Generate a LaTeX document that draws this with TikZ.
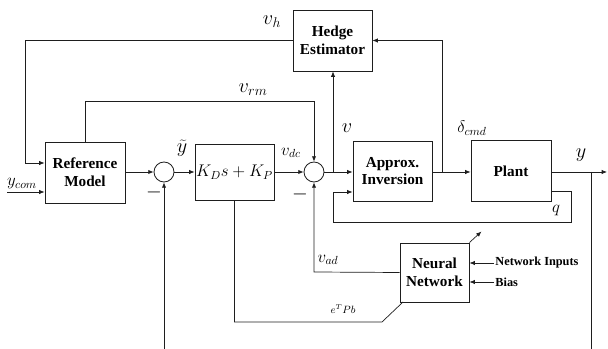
\documentclass[tikz,border=0pt]{standalone}
\usepackage{fontspec}
\setmainfont{Liberation Serif}
\usepackage{tikz}
\usetikzlibrary{arrows.meta,calc}
\definecolor{cwireline}{HTML}{1E1E1E}
\tikzset{cbox/.style={rectangle, draw=cwireline, line width=0.8pt, inner sep=0pt, align=center, font=\fontsize{13}{15}\selectfont\bfseries}}
\tikzset{csum/.style={circle, draw=cwireline, line width=0.7pt, minimum size=0.6cm, inner sep=0pt}}
\tikzset{cedge/.style={-{Latex[length=1.6mm,width=1.3mm]}, draw=cwireline, line width=0.6pt}}
\tikzset{cwire/.style={draw=cwireline, line width=0.6pt}}
\tikzset{clabel/.style={inner sep=1pt, font=\Large}}
\tikzset{ctext/.style={inner sep=1pt, font=\fontsize{10.5}{12}\selectfont\bfseries}}

\begin{document}
\begin{tikzpicture}[x=0.03cm, y=-0.03cm]
  \useasboundingbox (0,0) rectangle (608,349);

  \node[cbox, minimum width=2.4cm, minimum height=1.83cm] (refm) at (85,172.5) {Reference\\Model};
  \node[csum] (sum1) at (164,172) {};
  \node[cbox, minimum width=2.37cm, minimum height=1.68cm, font=\Large] (pd) at (234.5,172) {$K_D s + K_P$};
  \node[csum] (sum2) at (314,172) {};
  \node[cbox, minimum width=2.37cm, minimum height=1.83cm] (hedge) at (332.5,40.5) {Hedge\\Estimator};
  \node[cbox, minimum width=2.37cm, minimum height=1.8cm] (approx) at (392.5,171) {Approx.\\Inversion};
  \node[cbox, minimum width=2.4cm, minimum height=1.83cm] (plant) at (511,171) {Plant};
  \node[cbox, minimum width=2.07cm, minimum height=1.77cm] (nn) at (434.5,272.5) {Neural\\Network};

  \node[ctext, anchor=west] (nin) at (494,263) {Network Inputs};
  \node[ctext, anchor=west] (bias) at (494,282) {Bias};

  \coordinate (vhturn) at (25,163);
  \coordinate (ycomin) at (7,192);
  \coordinate (ymeas) at (164,349);
  \coordinate (vbr) at (333,172);
  \coordinate (dbr) at (442,172);
  \coordinate (ybr) at (591,172);
  \coordinate (yout) at (607,172);
  \coordinate (ybot) at (591,349);
  \coordinate (qa) at (571,191);
  \coordinate (qb) at (333,222);
  \coordinate (qin) at (333,192);
  \coordinate (vadc) at (314,272);
  \coordinate (ekink) at (382,322);
  \coordinate (ein) at (403,302);

  % signals
  \draw[cedge] (hedge.west) -| (vhturn) -- (refm.west |- vhturn);
  \draw[cedge] (ycomin) -- (refm.west |- ycomin);
  \draw[cedge] (refm.east |- sum1) -- (sum1.west);
  \draw[cedge] (refm.north) -- ++(0,-40) -| (sum2.north);
  \draw[cedge] (sum1) -- (pd);
  \draw[cedge] (ymeas) -- (sum1.south);
  \draw[cedge] (pd) -- (sum2);
  \draw[cedge] (sum2) -- (approx.west |- sum2);
  \draw[cedge] (vbr) -- (hedge.south -| vbr);
  \draw[cedge] (approx.east |- dbr) -- (plant.west |- dbr);
  \draw[cedge] (dbr) |- (hedge.east);
  \draw[cedge] (plant.east |- ybr) -- (yout);
  \draw[cwire] (ybr) -- (ybot);
  \draw[cedge] (plant.east |- qa) -- (qa) |- (qb) -- (qin) -- (approx.west |- qin);
  \draw[cedge] (nn.west) -- (vadc) -- (sum2.south);
  \draw[cwire] (pd.south) |- (ekink) -- (ein);
  \draw[cedge] (nn.north east) -- ++(12,-11);
  \draw[cedge] (nin.west) -- (nn.east |- nin);
  \draw[cedge] (bias.west) -- (nn.east |- bias);

  % labels
  \node[clabel, font=\LARGE] (lvh) at (272,22) {$v_h$};
  \node[clabel] (lycom) at (22,184) {$y_{com}$};
  \node[clabel, font=\LARGE] (lvrm) at (253,90) {$v_{rm}$};
  \node[clabel, inner sep=0pt, font=\LARGE] (lyt) at (182,148) {$\widetilde{y}$};
  \node[clabel] (lvdc) at (291,153) {$v_{dc}$};
  \node[clabel, font=\LARGE] (lv) at (347,128) {$v$};
  \node[clabel] (ldelta) at (472,128) {$\delta_{cmd}$};
  \node[clabel, font=\LARGE] (ly) at (581,155) {$y$};
  \node[clabel] (lq) at (556,211) {$q$};
  \node[clabel] (lvad) at (328,260) {$v_{ad}$};
  \node[clabel, font=\small] (lepb) at (343,309) {$e^T P b$};
  \node[clabel, font=\LARGE] (lm1) at (154,192) {$-$};
  \node[clabel, font=\LARGE] (lm2) at (300,194) {$-$};
\end{tikzpicture}
\end{document}
